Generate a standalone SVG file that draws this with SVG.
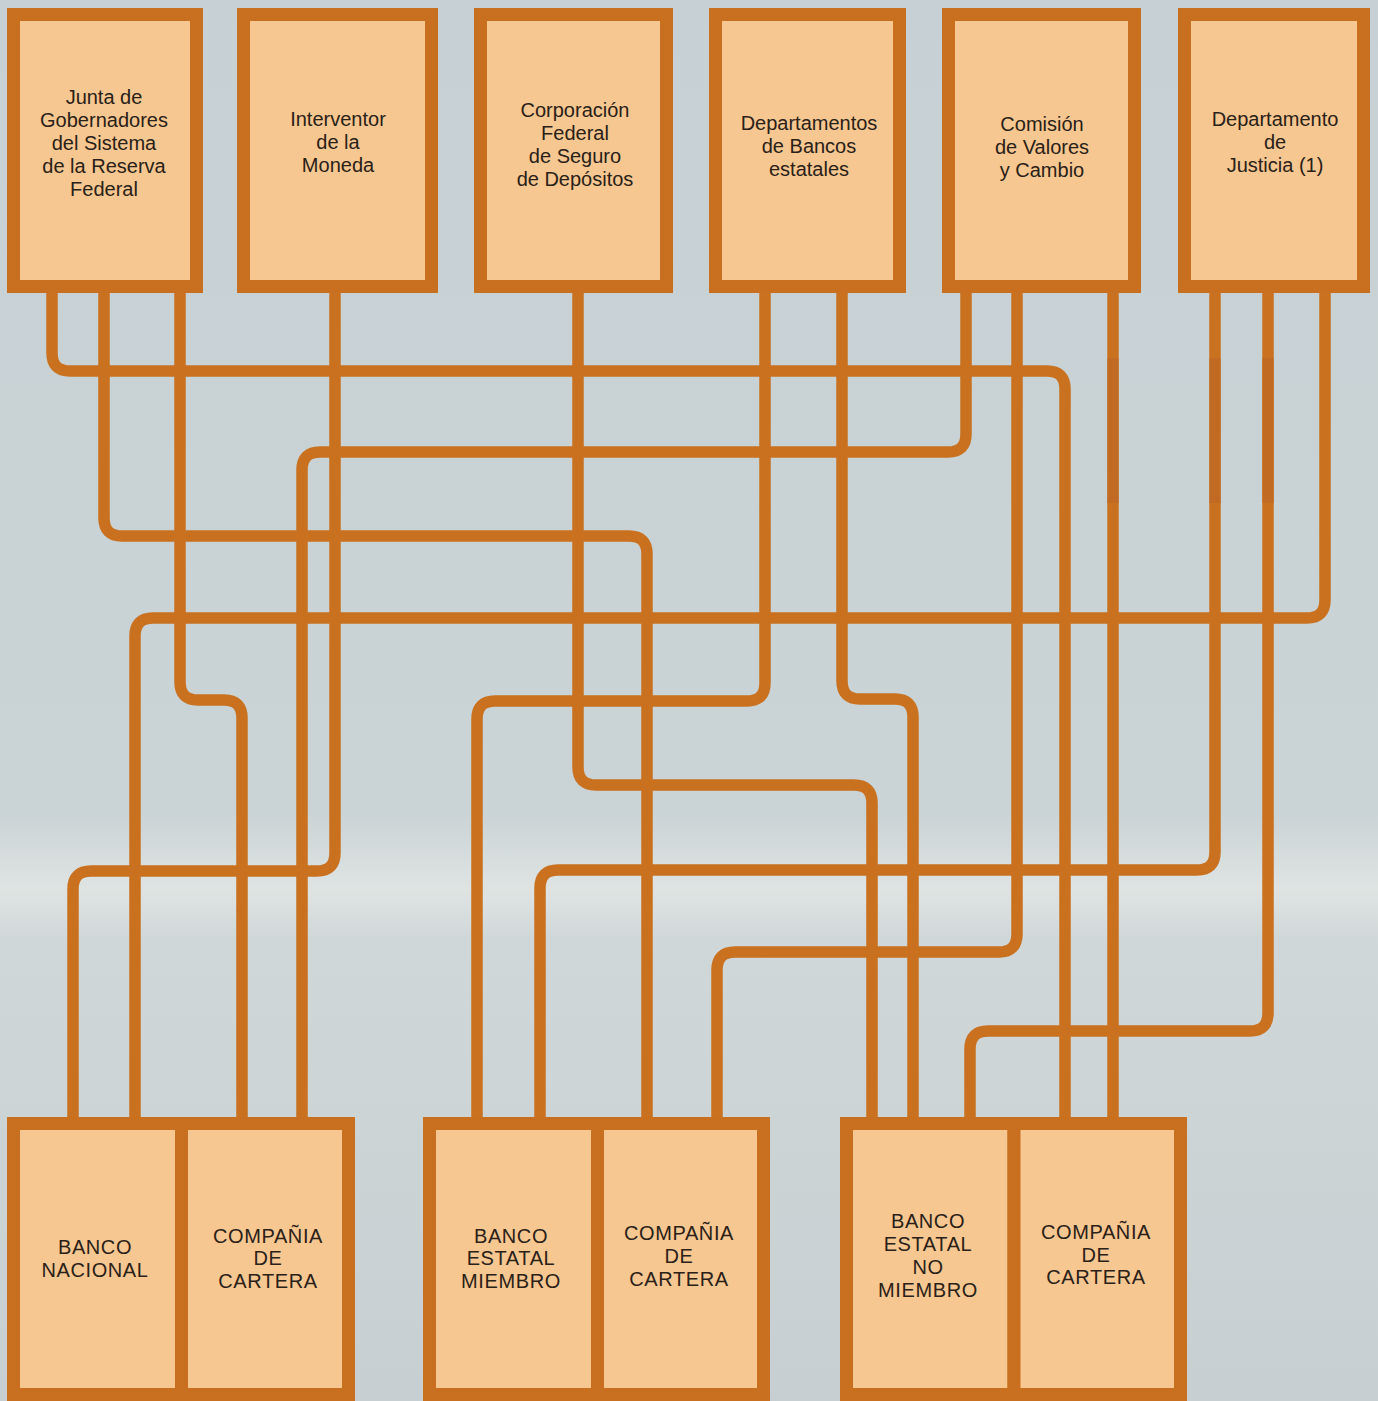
<svg xmlns="http://www.w3.org/2000/svg" width="1378" height="1401" viewBox="0 0 1378 1401">
<defs>
<linearGradient id="bg" x1="0" y1="0" x2="0" y2="1">
<stop offset="0" stop-color="#c7d1d5"/>
<stop offset="0.58" stop-color="#cad3d5"/>
<stop offset="0.635" stop-color="#dfe4e3"/>
<stop offset="0.67" stop-color="#d0d7d8"/>
<stop offset="1" stop-color="#c7cfd2"/>
</linearGradient>
<style>
.box{fill:#f7c791;stroke:#c8701f;stroke-width:13}
.ln{fill:none;stroke:#c9711f;stroke-width:11.5}
.dk{fill:#c06a24}
text{font-family:"Liberation Sans",Arial,sans-serif;font-size:20px;fill:#2a2118;text-anchor:middle}
.up{letter-spacing:0.6px}
</style>
</defs>
<rect x="0" y="0" width="1378" height="1401" fill="url(#bg)"/>

<g id="connectors">
<path class="ln" d="M52 290 V353 Q52 371 70 371 H1047 Q1065 371 1065 389 V1120"/>
<path class="ln" d="M104 290 V518 Q104 536 122 536 H629 Q647 536 647 554 V1120"/>
<path class="ln" d="M180 290 V682 Q180 700 198 700 H224 Q242 700 242 718 V1120"/>
<path class="ln" d="M335 290 V853 Q335 871 317 871 H91 Q73 871 73 889 V1120"/>
<path class="ln" d="M578 290 V767 Q578 785 596 785 H854 Q872 785 872 803 V1120"/>
<path class="ln" d="M765 290 V683 Q765 701 747 701 H495 Q477 701 477 719 V1120"/>
<path class="ln" d="M842 290 V681 Q842 699 860 699 H895 Q913 699 913 717 V1120"/>
<path class="ln" d="M966 290 V434 Q966 452 948 452 H320 Q302 452 302 470 V1120"/>
<path class="ln" d="M1017 290 V934 Q1017 952 999 952 H735 Q717 952 717 970 V1120"/>
<path class="ln" d="M1113 290 V1120"/>
<path class="ln" d="M1215 290 V852 Q1215 870 1197 870 H558 Q540 870 540 888 V1120"/>
<path class="ln" d="M1268 290 V1013 Q1268 1031 1250 1031 H988 Q970 1031 970 1049 V1120"/>
<path class="ln" d="M1325 290 V600 Q1325 618 1307 618 H153 Q135 618 135 636 V1120"/>
<rect class="dk" x="1107.5" y="358" width="11" height="145"/>
<rect class="dk" x="1209.5" y="358" width="11" height="145"/>
<rect class="dk" x="1262.5" y="358" width="11" height="145"/>
</g>

<g id="junta">
<rect class="box" x="13.5" y="14.5" width="183" height="272"/>
<text x="104" y="104">Junta de</text>
<text x="104" y="127">Gobernadores</text>
<text x="104" y="150">del Sistema</text>
<text x="104" y="173">de la Reserva</text>
<text x="104" y="196">Federal</text>
</g>
<g id="interventor">
<rect class="box" x="243.5" y="14.5" width="188" height="272"/>
<text x="338" y="126">Interventor</text>
<text x="338" y="149">de la</text>
<text x="338" y="172">Moneda</text>
</g>
<g id="corporacion">
<rect class="box" x="480.5" y="14.5" width="186" height="272"/>
<text x="575" y="117">Corporación</text>
<text x="575" y="140">Federal</text>
<text x="575" y="163">de Seguro</text>
<text x="575" y="186">de Depósitos</text>
</g>
<g id="departamentos">
<rect class="box" x="715.5" y="14.5" width="184" height="272"/>
<text x="809" y="130">Departamentos</text>
<text x="809" y="153">de Bancos</text>
<text x="809" y="176">estatales</text>
</g>
<g id="comision">
<rect class="box" x="948.5" y="14.5" width="186" height="272"/>
<text x="1042" y="131">Comisión</text>
<text x="1042" y="154">de Valores</text>
<text x="1042" y="177">y Cambio</text>
</g>
<g id="justicia">
<rect class="box" x="1184.5" y="14.5" width="179" height="272"/>
<text x="1275" y="126">Departamento</text>
<text x="1275" y="149">de</text>
<text x="1275" y="172">Justicia (1)</text>
</g>

<g id="banco-nacional">
<rect class="box" x="13.5" y="1123.5" width="168" height="271"/>
<text class="up" x="95" y="1254">BANCO</text>
<text class="up" x="95" y="1277">NACIONAL</text>
</g>
<g id="compania-1">
<rect class="box" x="181.5" y="1123.5" width="167" height="271"/>
<text class="up" x="268" y="1243">COMPAÑIA</text>
<text class="up" x="268" y="1265">DE</text>
<text class="up" x="268" y="1288">CARTERA</text>
</g>
<g id="banco-estatal-miembro">
<rect class="box" x="429.5" y="1123.5" width="168" height="271"/>
<text class="up" x="511" y="1243">BANCO</text>
<text class="up" x="511" y="1265">ESTATAL</text>
<text class="up" x="511" y="1288">MIEMBRO</text>
</g>
<g id="compania-2">
<rect class="box" x="597.5" y="1123.5" width="166" height="271"/>
<text class="up" x="679" y="1240">COMPAÑIA</text>
<text class="up" x="679" y="1263">DE</text>
<text class="up" x="679" y="1286">CARTERA</text>
</g>
<g id="banco-estatal-no-miembro">
<rect class="box" x="846.5" y="1123.5" width="167.5" height="271"/>
<text class="up" x="928" y="1228">BANCO</text>
<text class="up" x="928" y="1251">ESTATAL</text>
<text class="up" x="928" y="1274">NO</text>
<text class="up" x="928" y="1297">MIEMBRO</text>
</g>
<g id="compania-3">
<rect class="box" x="1014" y="1123.5" width="166.5" height="271"/>
<text class="up" x="1096" y="1239">COMPAÑIA</text>
<text class="up" x="1096" y="1262">DE</text>
<text class="up" x="1096" y="1284">CARTERA</text>
</g>
</svg>
